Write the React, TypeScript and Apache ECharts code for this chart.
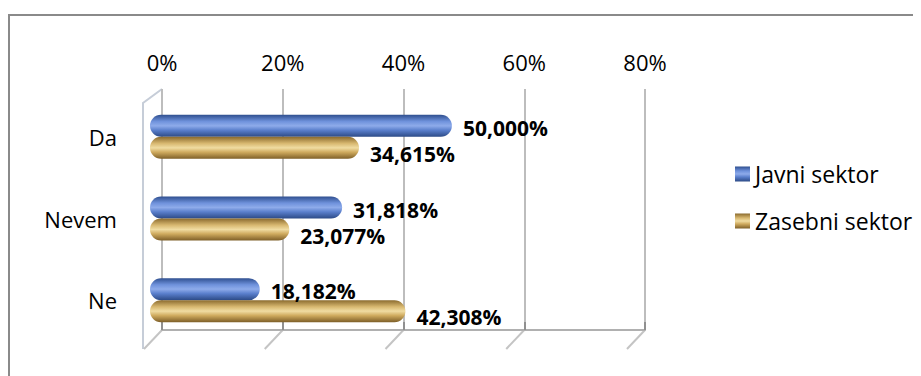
import React, { useEffect, useRef } from "react";
import * as echarts from "echarts";

const categories = ["Da", "Nevem", "Ne"];
const seriesNames = ["Javni sektor", "Zasebni sektor"];
const javniValues = [50.0, 31.818, 18.182];
const zasebniValues = [34.615, 23.077, 42.308];
const axisMin = 0;
const axisMax = 80;
const axisInterval = 20;

const FONT = "'Open Sans', 'Noto Sans', sans-serif";

const fmt = (v: number) => v.toFixed(3).replace(".", ",") + "%";

const blueGrad = new echarts.graphic.LinearGradient(0, 0, 0, 1, [
  { offset: 0, color: "#2f4f8f" },
  { offset: 0.3, color: "#6f92dc" },
  { offset: 0.5, color: "#8eabea" },
  { offset: 0.7, color: "#5a7fcc" },
  { offset: 1, color: "#2c4a86" },
]);
const goldGrad = new echarts.graphic.LinearGradient(0, 0, 0, 1, [
  { offset: 0, color: "#8a6a2e" },
  { offset: 0.3, color: "#d8b870" },
  { offset: 0.5, color: "#f0dca2" },
  { offset: 0.7, color: "#cfaa5e" },
  { offset: 1, color: "#7e5f28" },
]);

export default function App() {
  const ref = useRef<HTMLDivElement>(null);
  useEffect(() => {
    if (!ref.current) return;
    const chart = echarts.init(ref.current, null, { renderer: "svg" });
    const labelStyle = (dy: number) => ({
      show: true,
      position: "right" as const,
      distance: 11,
      offset: [0, dy],
      formatter: (p: any) => fmt(p.value),
      fontFamily: FONT,
      fontSize: 21,
      lineHeight: 16,
      fontWeight: "bold" as const,
      color: "#000",
    });
    chart.setOption({
      animation: false,
      backgroundColor: "#fff",
      grid: [
        { left: 154, top: 81, width: 483, height: 241 },
        { left: 142, top: 88, width: 483, height: 245 },
      ],
      xAxis: [
        {
          gridIndex: 0,
          type: "value",
          position: "top",
          min: axisMin,
          max: axisMax,
          interval: axisInterval,
          axisLine: { show: true, lineStyle: { color: "#b0b0b0", width: 2 } },
          axisTick: { show: true, length: 8, lineStyle: { color: "#909090", width: 2 } },
          splitLine: { show: true, lineStyle: { color: "#bdbdbd", width: 2 } },
          axisLabel: {
            formatter: "{value}%",
            fontFamily: FONT,
            fontSize: 22,
            color: "#000",
            margin: 16,
          },
        },
        {
          gridIndex: 1,
          type: "value",
          min: axisMin,
          max: axisMax,
          interval: axisInterval,
          show: false,
        },
      ],
      yAxis: [
        { gridIndex: 0, type: "value", min: 0, max: 1, show: false },
        {
          gridIndex: 1,
          type: "category",
          inverse: true,
          data: categories,
          axisLine: { show: false },
          axisTick: { show: false },
          axisLabel: {
            fontFamily: FONT,
            fontSize: 22,
            color: "#000",
            margin: 33,
            padding: [16, 0, 0, 0],
          },
        },
      ],
      legend: {
        orient: "vertical",
        left: 722,
        top: 149,
        icon: "rect",
        itemWidth: 15,
        itemHeight: 15,
        itemGap: 23,
        data: seriesNames,
        textStyle: { fontFamily: FONT, fontSize: 23, color: "#000", lineHeight: 24 },
      },
      series: [
        {
          name: seriesNames[0],
          type: "bar",
          xAxisIndex: 1,
          yAxisIndex: 1,
          data: javniValues,
          barWidth: 22,
          barGap: "0%",
          itemStyle: { color: blueGrad, borderRadius: 11 },
          label: labelStyle(2),
        },
        {
          name: seriesNames[1],
          type: "bar",
          xAxisIndex: 1,
          yAxisIndex: 1,
          data: zasebniValues,
          barWidth: 22,
          barGap: "0%",
          itemStyle: { color: goldGrad, borderRadius: 11 },
          label: labelStyle(6),
        },
      ],
    });

    const top = chart.convertToPixel({ yAxisIndex: 0 }, 1) as number;
    const bottom = chart.convertToPixel({ yAxisIndex: 0 }, 0) as number;
    const x0 = chart.convertToPixel({ xAxisIndex: 0 }, axisMin) as number;
    const ticks: number[] = [];
    for (let v = axisMin; v <= axisMax; v += axisInterval) ticks.push(v);
    const gridColor = "#c4c4c4";
    const elements: any[] = ticks.map((v) => {
      const x = chart.convertToPixel({ xAxisIndex: 0 }, v) as number;
      return {
        type: "line",
        shape: { x1: x, y1: bottom, x2: x - 18, y2: bottom + 19 },
        style: { stroke: gridColor, lineWidth: 2 },
        silent: true,
      };
    });
    elements.push({
      type: "polyline",
      shape: {
        points: [
          [x0, top],
          [x0 - 19, top + 14],
          [x0 - 19, bottom + 19],
        ],
      },
      style: { stroke: "#c6cdd8", lineWidth: 2, fill: null },
      silent: true,
      z: -1,
    });
    elements.push({
      type: "polyline",
      shape: {
        points: [
          [913, 7],
          [1, 7],
          [1, 368],
        ],
      },
      style: { stroke: "#8a8a8a", lineWidth: 2, fill: null },
      silent: true,
    });
    chart.setOption({ graphic: { elements } });

    return () => chart.dispose();
  }, []);
  return <div ref={ref} style={{ width: 913, height: 368 }} />;
}
